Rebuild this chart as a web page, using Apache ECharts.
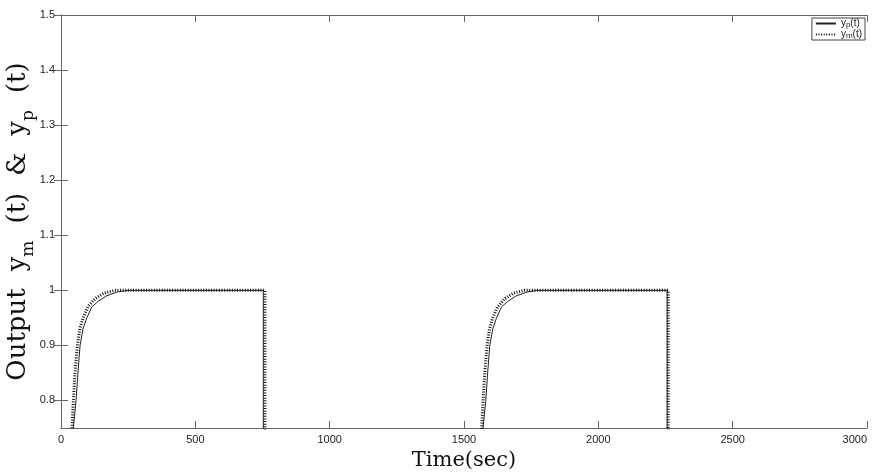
<!DOCTYPE html>
<html lang="en">
<head>
    <meta charset="UTF-8">
    <title>Output ym(t) & yp(t)</title>
    <script src="https://cdn.jsdelivr.net/npm/echarts@6.0.0/dist/echarts.min.js"></script>
    <style>
        html, body { margin: 0; padding: 0; background: #fff; }
        #chart { width: 880px; height: 472px; }
    </style>
</head>
<body>
    <div id="chart"></div>
    <script>
    // 读图得到的数据 (低于 0.75 的部分被坐标区裁掉)
    const ypTime  = [0, 44, 46, 50, 56, 63, 71, 82, 96, 115, 138, 170, 210, 250, 753, 753,
                     1560, 1569, 1571, 1575, 1581, 1588, 1596, 1607, 1621, 1640, 1663, 1695, 1735, 1775, 2256, 2256, 3000];
    const ypValue = [0.5, 0.7, 0.75, 0.77, 0.8, 0.85, 0.9, 0.93, 0.95, 0.97, 0.98, 0.99, 0.997, 1, 1, 0.5,
                     0.5, 0.7, 0.75, 0.77, 0.8, 0.85, 0.9, 0.93, 0.95, 0.97, 0.98, 0.99, 0.997, 1, 1, 0.5, 0.5];
    const ymTime  = [0, 39, 41, 43, 46, 52, 61, 70, 82, 100, 127, 160, 200, 759, 759,
                     1560, 1564, 1566, 1568, 1571, 1577, 1586, 1595, 1607, 1625, 1652, 1685, 1725, 2260, 2260, 3000];
    const ymValue = [0.5, 0.7, 0.75, 0.77, 0.8, 0.85, 0.9, 0.93, 0.95, 0.97, 0.985, 0.995, 1, 1, 0.5,
                     0.5, 0.7, 0.75, 0.77, 0.8, 0.85, 0.9, 0.93, 0.95, 0.97, 0.985, 0.995, 1, 1, 0.5, 0.5];
    const yTicks = [0.8, 0.9, 1, 1.1, 1.2, 1.3, 1.4, 1.5];

    const ypData = ypTime.map((t, i) => [t, ypValue[i]]);
    const ymData = ymTime.map((t, i) => [t, ymValue[i]]);

    const axisColor = '#666';
    const tickFont = { color: '#222', fontSize: 11, fontFamily: 'Liberation Sans, Arial, sans-serif' };
    const serif = 'DejaVu Serif, serif';

    const chart = echarts.init(document.getElementById('chart'));
    chart.setOption({
        animation: false,
        grid: { left: 61, right: 13, top: 15, bottom: 44, containLabel: false, outerBoundsMode: 'none' },
        legend: {
            right: 15, top: 18, orient: 'vertical',
            backgroundColor: '#fff', borderColor: '#444', borderWidth: 1, borderRadius: 0,
            padding: [0, 3, 0, 3], itemGap: 0, itemWidth: 20, itemHeight: 8,
            data: ['yp', 'ym'],
            itemStyle: { color: 'transparent', borderColor: 'transparent', borderWidth: 0 },
            formatter: name => '{a|y}{b|' + name.slice(1) + '}{a|(t)}',
            textStyle: {
                color: '#222', fontFamily: 'Liberation Sans, Arial, sans-serif',
                rich: {
                    a: { fontSize: 10, verticalAlign: 'top', lineHeight: 11 },
                    b: { fontSize: 8, verticalAlign: 'bottom', lineHeight: 11 }
                }
            }
        },
        xAxis: [{
            type: 'value', min: 0, max: 3000, interval: 500,
            name: 'Time(sec)', nameLocation: 'middle', nameGap: 22,
            nameTextStyle: { fontFamily: serif, fontSize: 21, color: '#111' },
            axisLine: { lineStyle: { color: axisColor } },
            axisTick: { inside: true, length: 7, lineStyle: { color: axisColor } },
            axisLabel: Object.assign({ margin: 6, alignMaxLabel: 'right', formatter: v => String(v) }, tickFont),
            splitLine: { show: false }
        }, {
            type: 'value', min: 0, max: 3000, interval: 500, position: 'top',
            axisLine: { lineStyle: { color: axisColor } },
            axisTick: { inside: true, length: 7, lineStyle: { color: axisColor } },
            axisLabel: { show: false }, splitLine: { show: false }
        }],
        yAxis: [{
            type: 'value', min: 0.75, max: 1.5,
            name: '{t|Output}{g|}{t|y}{s|m}{g|}{t|(t)}{g|}{t|&}{g|}{t|y}{s|p}{g|}{t|(t)}',
            nameLocation: 'middle', nameGap: 24, nameMoveOverlap: false,
            nameTextStyle: {
                color: '#111', fontFamily: serif,
                rich: {
                    t: { fontSize: 26, fontFamily: serif, color: '#111', verticalAlign: 'top', lineHeight: 32 },
                    s: { fontSize: 17, fontFamily: serif, color: '#111', verticalAlign: 'bottom', lineHeight: 32 },
                    g: { width: 17, lineHeight: 32 }
                }
            },
            axisLine: { show: true, lineStyle: { color: axisColor } },
            axisTick: { show: true, inside: true, length: 7, customValues: yTicks, lineStyle: { color: axisColor } },
            axisLabel: Object.assign({ margin: 6, customValues: yTicks }, tickFont),
            splitLine: { show: false }
        }, {
            type: 'value', min: 0.75, max: 1.5, position: 'right',
            axisLine: { show: true, lineStyle: { color: axisColor } },
            axisTick: { show: true, inside: true, length: 7, customValues: yTicks, lineStyle: { color: axisColor } },
            axisLabel: { show: false }, splitLine: { show: false }
        }],
        series: [{
            name: 'yp', type: 'line', data: ypData, symbol: 'none', clip: true,
            lineStyle: { color: '#222', width: 1 }, itemStyle: { color: '#222' }
        }, {
            name: 'ym', type: 'line', data: ymData, symbol: 'none', clip: true,
            lineStyle: { color: '#111', width: 3, type: [1, 1.6] }, itemStyle: { color: '#111' }
        }]
    });
    </script>
</body>
</html>
